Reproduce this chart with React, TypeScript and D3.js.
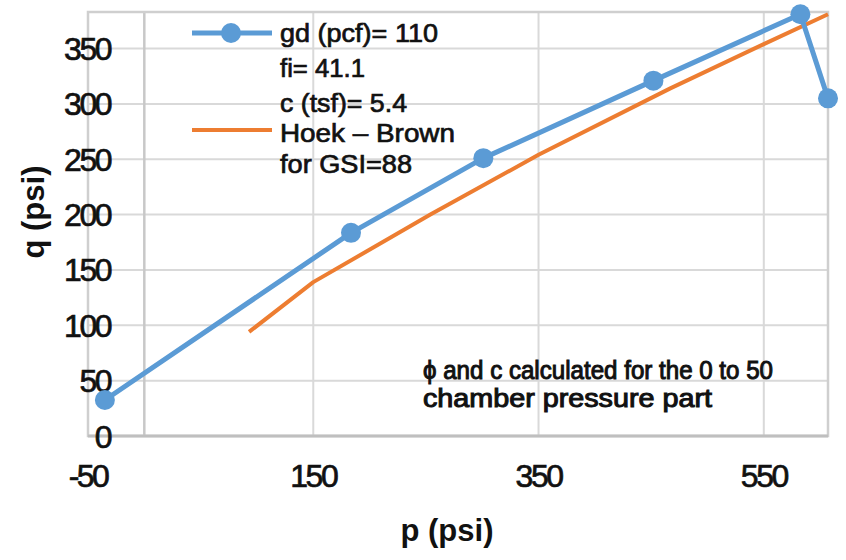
import React from "react";
import * as d3 from "d3";

// Measured strength envelope (blue, with markers)
const testP = [-35, 183.5, 301, 452, 582.5, 607];
const testQ = [32.5, 183.5, 251, 321, 381, 305];

// Hoek–Brown envelope for GSI = 88 (orange)
const hbP = [93, 150, 254, 350, 467, 550, 607];
const hbQ = [94, 139, 200, 254, 314, 354, 381];

const xTicks = [-50, 150, 350, 550];
const yTicks = [0, 50, 100, 150, 200, 250, 300, 350];

const legendLines = ["gd (pcf)= 110", "fi= 41.1", "c (tsf)= 5.4", "Hoek – Brown", "for GSI=88"];
const legendWidths = [158, 85, 127, 175, 132];
const noteLines = ["ϕ and c calculated for the 0 to 50", "chamber pressure part"];
const noteWidths = [350, 289];

const W = 846;
const H = 560;
const plot = { left: 88, right: 828, top: 12, bottom: 436 };

const BLUE = "#5B9BD5";
const ORANGE = "#ED7D31";
const GRID = "#D9D9D9";
const INK = "#111";
const FONT = "'Liberation Sans', Arial, sans-serif";

export default function App() {
  const x = d3.scaleLinear().domain([-50, 607]).range([plot.left, plot.right]);
  const y = d3.scaleLinear().domain([0, 383]).range([plot.bottom, plot.top]);

  const line = d3
    .line<[number, number]>()
    .x((d) => x(d[0]))
    .y((d) => y(d[1]));

  const testPts: [number, number][] = testP.map((p, i) => [p, testQ[i]]);
  const hbPts: [number, number][] = hbP.map((p, i) => [p, hbQ[i]]);

  const legendY = [33, 68, 103, 133, 164];
  const heavy = { stroke: INK, strokeWidth: 0.7 };

  return (
    <svg
      width={W}
      height={H}
      style={{ position: "absolute", left: 0, top: 0, background: "#fff" }}
      fontFamily={FONT}
    >
      <rect x={0} y={0} width={W} height={H} fill="#fff" />

      {/* horizontal gridlines */}
      {yTicks.map((t) => (
        <line key={"hy" + t} x1={plot.left} x2={plot.right} y1={y(t)} y2={y(t)} stroke={GRID} strokeWidth={2} />
      ))}
      {/* vertical gridlines */}
      {xTicks.map((t) => (
        <line key={"vx" + t} x1={x(t)} x2={x(t)} y1={plot.top} y2={plot.bottom} stroke={GRID} strokeWidth={2} />
      ))}
      {/* vertical axis at p = 0 */}
      <line x1={x(0)} x2={x(0)} y1={plot.top} y2={plot.bottom} stroke="#C8C8C8" strokeWidth={2.5} />
      {/* plot frame */}
      <rect
        x={plot.left}
        y={plot.top}
        width={plot.right - plot.left}
        height={plot.bottom - plot.top}
        fill="none"
        stroke="#CFCFCF"
        strokeWidth={2.5}
      />
      {/* horizontal axis at q = 0 */}
      <line x1={plot.left} x2={plot.right} y1={y(0)} y2={y(0)} stroke="#BFBFBF" strokeWidth={3} />

      {/* y tick labels */}
      {yTicks.map((t) => (
        <text
          key={"yl" + t}
          x={110}
          y={y(t)}
          dy="0.36em"
          textAnchor="end"
          fontSize={32}
          letterSpacing={-2.5}
          fill={INK}
          {...heavy}
        >
          {t}
        </text>
      ))}
      {/* x tick labels */}
      {xTicks.map((t) => (
        <text
          key={"xl" + t}
          x={x(t)}
          y={475}
          dy="0.36em"
          textAnchor="middle"
          fontSize={32}
          letterSpacing={-2.5}
          fill={INK}
          {...heavy}
        >
          {t}
        </text>
      ))}

      {/* axis titles */}
      <text x={447} y={530} dy="0.36em" textAnchor="middle" fontSize={31} fontWeight="bold" fill={INK}>
        p (psi)
      </text>
      <text
        transform={`translate(33,212) rotate(-90)`}
        dy="0.36em"
        textAnchor="middle"
        fontSize={31}
        fontWeight="bold"
        fill={INK}
      >
        q (psi)
      </text>

      {/* series */}
      <path d={line(hbPts) ?? ""} fill="none" stroke={ORANGE} strokeWidth={4} strokeLinejoin="round" />
      <path d={line(testPts) ?? ""} fill="none" stroke={BLUE} strokeWidth={5} strokeLinejoin="round" />
      {testPts.map((d, i) => (
        <circle key={"pt" + i} cx={x(d[0])} cy={y(d[1])} r={10} fill={BLUE} />
      ))}

      {/* legend */}
      <line x1={192} x2={272} y1={33} y2={33} stroke={BLUE} strokeWidth={5} />
      <circle cx={231} cy={33} r={10} fill={BLUE} />
      <line x1={192} x2={272} y1={130} y2={130} stroke={ORANGE} strokeWidth={4} />
      {legendLines.map((s, i) => (
        <text
          key={"lg" + i}
          x={280}
          y={legendY[i]}
          dy="0.36em"
          fontSize={26}
          textLength={legendWidths[i]}
          lengthAdjust="spacingAndGlyphs"
          fill={INK}
          {...heavy}
        >
          {s}
        </text>
      ))}

      {/* note */}
      {noteLines.map((s, i) => (
        <text
          key={"nt" + i}
          x={423}
          y={[370, 398][i]}
          dy="0.36em"
          fontSize={25}
          textLength={noteWidths[i]}
          lengthAdjust="spacingAndGlyphs"
          fill={INK}
          stroke={INK}
          strokeWidth={1}
        >
          {s}
        </text>
      ))}
    </svg>
  );
}
